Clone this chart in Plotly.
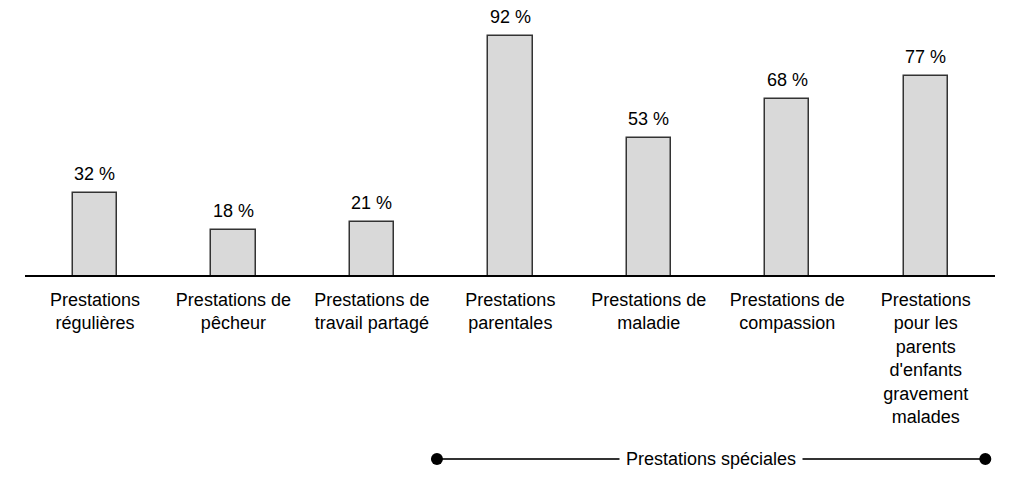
import plotly.graph_objects as go

# Données
categories = [
    "Prestations<br>régulières",
    "Prestations de<br>pêcheur",
    "Prestations de<br>travail partagé",
    "Prestations<br>parentales",
    "Prestations de<br>maladie",
    "Prestations de<br>compassion",
    "Prestations<br>pour les<br>parents<br>d'enfants<br>gravement<br>malades",
]
pourcentages = [32, 18, 21, 92, 53, 68, 77]
etiquette_groupe = "Prestations spéciales"

police = "Liberation Sans, Arial, sans-serif"
x = list(range(len(categories)))

fig = go.Figure()
fig.add_trace(go.Bar(
    x=x,
    y=pourcentages,
    width=0.32,
    marker=dict(color="#d9d9d9", line=dict(color="#333333", width=1.5)),
    hoverinfo="skip",
))

# étiquettes des valeurs au-dessus des barres
for i, v in zip(x, pourcentages):
    fig.add_annotation(x=i, y=v, text=f"{v} %", showarrow=False,
                       yanchor="bottom", yshift=7,
                       font=dict(family=police, size=18, color="black"))

# ligne de base
fig.add_shape(type="line", xref="paper", yref="y", x0=0, x1=1, y0=0, y1=0,
              line=dict(color="black", width=4))

# accolade "Prestations spéciales"
debut, fin, y_acc = 2.47, 6.43, -0.682
fig.add_shape(type="line", xref="x", yref="paper", x0=debut, x1=fin,
              y0=y_acc, y1=y_acc, line=dict(color="#333333", width=2))
for xc in (debut, fin):
    fig.add_shape(type="circle", xref="x", yref="paper",
                  xsizemode="pixel", ysizemode="pixel",
                  xanchor=xc, yanchor=y_acc,
                  x0=-6, x1=6, y0=-6, y1=6,
                  fillcolor="black", line=dict(color="black", width=0))
fig.add_annotation(x=(debut + fin) / 2, y=y_acc, xref="x", yref="paper",
                   text=etiquette_groupe, showarrow=False,
                   xanchor="center", yanchor="middle",
                   bgcolor="white", borderpad=6,
                   font=dict(family=police, size=18, color="black"))

# la page ajoute une marge de 8 px : on compense
fig.update_layout(
    width=1002, height=477,
    margin=dict(l=17, r=15, t=2, b=208),
    plot_bgcolor="white", paper_bgcolor="white",
    showlegend=False,
    bargap=0,
    xaxis=dict(range=[-0.505, 6.5], tickvals=x, ticktext=categories,
               showgrid=False, zeroline=False, showline=False, ticks="",
               tickfont=dict(family=police, size=18, color="black"),
               ticklabelstandoff=10),
    yaxis=dict(range=[0, 102.1], visible=False),
)

fig.write_html("out.html")
